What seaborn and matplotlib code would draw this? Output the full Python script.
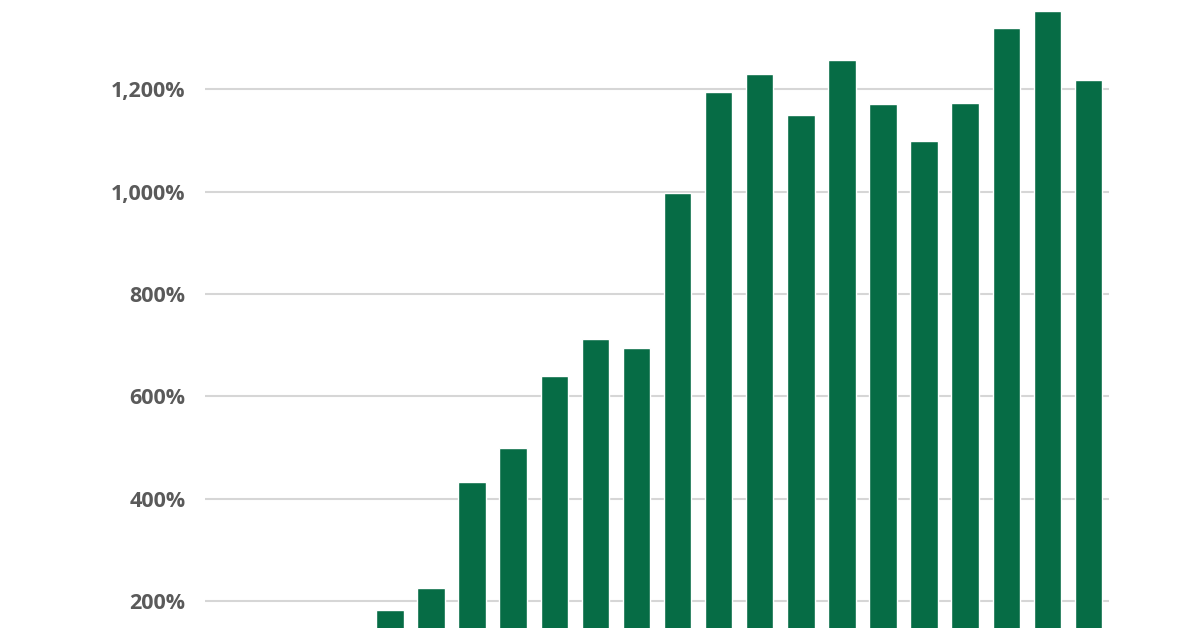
import matplotlib
matplotlib.use("Agg")
import matplotlib.pyplot as plt
import matplotlib.ticker as mticker
import seaborn as sns
import pandas as pd

# Bars per year; the first four sit below the visible crop, so they are rough guesses
years = [str(y) for y in range(1998, 2020)]
growth_pct = [35, 60, 95, 125, 182, 225, 432, 499, 639, 712, 695, 997,
              1194, 1230, 1150, 1257, 1172, 1099, 1173, 1320, 1353, 1219]
# only the ticks that fall inside the cropped frame
y_ticks = [200, 400, 600, 800, 1000, 1200]

df = pd.DataFrame({"year": years, "growth": growth_pct})

sns.set_theme(style="white")
plt.rcParams["font.family"] = ["Open Sans", "DejaVu Sans"]

fig = plt.figure(figsize=(12, 6.28), dpi=100)
# the original image is a crop: the axis base and x labels fall below the frame
ax = fig.add_axes([205 / 1200, -0.1201, 904 / 1200, 1.1408])

sns.barplot(data=df, x="year", y="growth", order=years, color="#066c45",
            saturation=1, width=0.67, ax=ax, zorder=3)

ax.set_xlim(-0.5, len(years) - 0.5)
ax.set_ylim(0, 1400)
ax.set_yticks(y_ticks)
ax.yaxis.set_major_formatter(mticker.FuncFormatter(lambda v, p: f"{int(v):,}%"))
ax.grid(axis="y", color="#d6d6d6", linewidth=1.5, zorder=0)
ax.set_axisbelow(True)
for s in ax.spines.values():
    s.set_visible(False)
ax.tick_params(axis="y", length=0, pad=14, labelsize=15.5, labelcolor="#5a5a5a")
for lbl in ax.get_yticklabels():
    lbl.set_fontweight("bold")
ax.set_xticks([])
ax.set_xlabel("")
ax.set_ylabel("")

fig.savefig("out.png", dpi=100)
